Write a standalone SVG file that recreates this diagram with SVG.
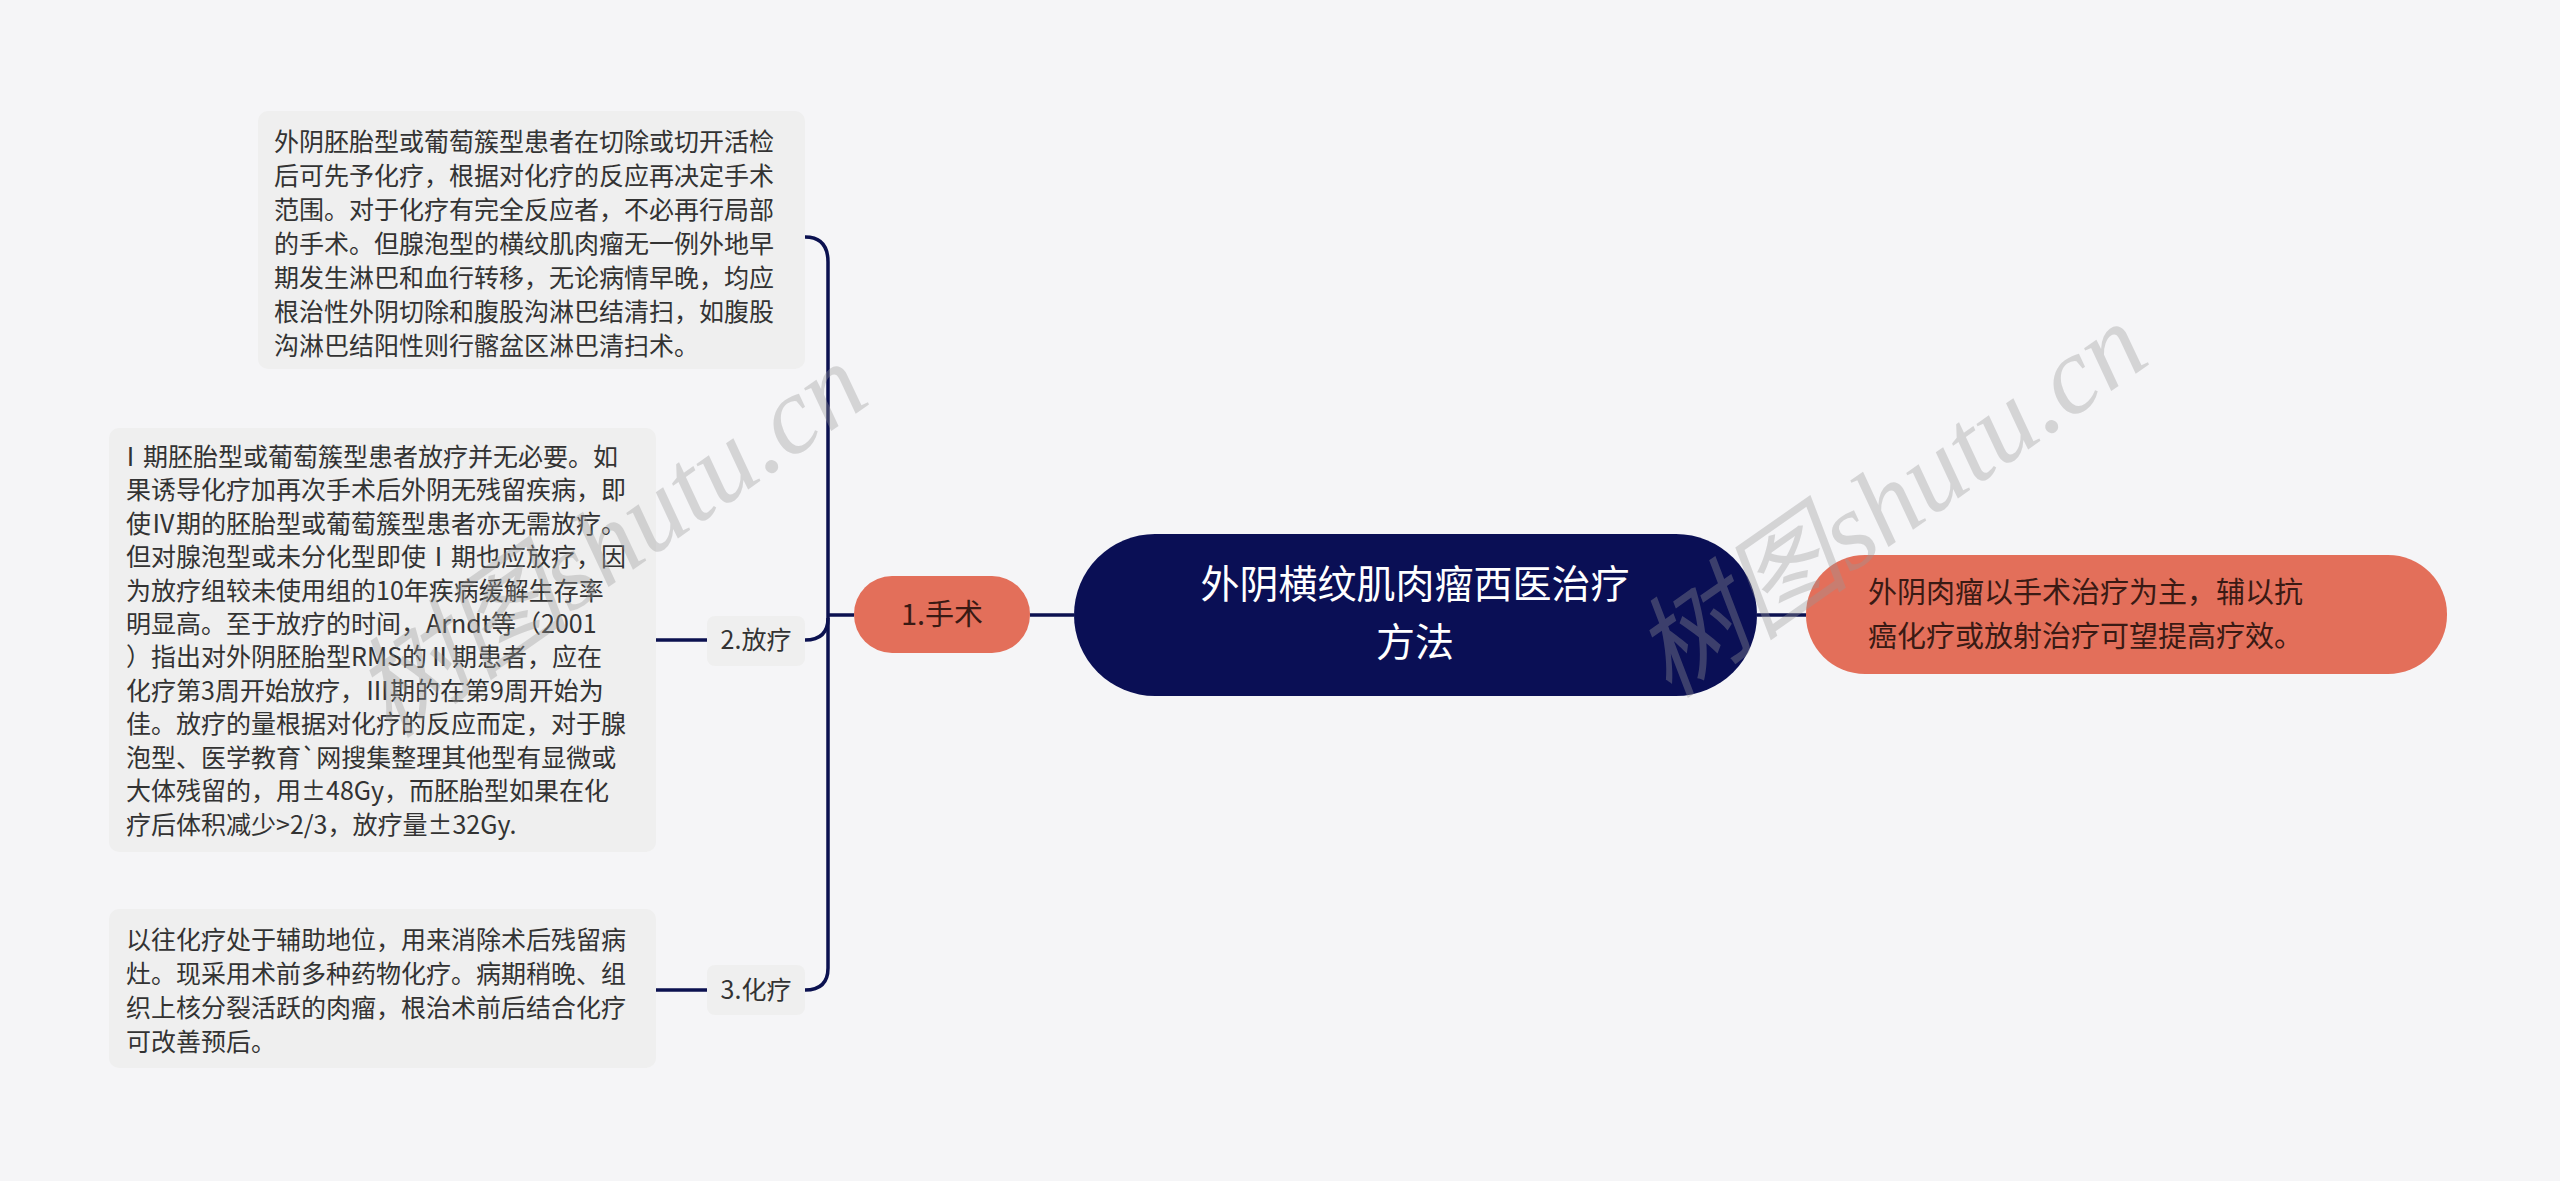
<svg xmlns="http://www.w3.org/2000/svg" width="2560" height="1181" viewBox="0 0 2560 1181">
<style>
text{font-family:"Noto Sans CJK SC","Noto Sans",sans-serif}
.box{fill:#efefef}
.t{font-size:25px;fill:#333}
.lab{font-size:25px;fill:#333}
.ln{fill:none;stroke:#0b1150;stroke-width:3.5}
.wm{font-size:110px;fill:#999;opacity:0.35;font-family:"Liberation Serif","Noto Sans CJK SC",serif;font-style:italic}
</style>
<rect width="2560" height="1181" fill="#f5f5f7"/>
<g id="connectors">
<path class="ln" d="M1030,615 L1074,615"/>
<path class="ln" d="M1757,615 L1806,615"/>
<path class="ln" d="M854,615 L828,615"/>
<path class="ln" d="M805,237 Q828,237 828,262 L828,968 Q828,990 805,990"/>
<path class="ln" d="M828,618 Q828,640 805,640"/>
<path class="ln" d="M656,640 L707,640"/>
<path class="ln" d="M656,990 L707,990"/>
</g>
<g id="center">
<rect x="1074" y="534" width="683" height="162" rx="81" fill="#0a0f55"/>
<text x="1415" y="598" font-size="39" fill="#fff" text-anchor="middle">外阴横纹肌肉瘤西医治疗</text>
<text x="1415" y="656" font-size="39" fill="#fff" text-anchor="middle">方法</text>
</g>
<g id="right">
<rect x="1806" y="555" width="641" height="119" rx="59" fill="#e36f5a"/>
<text x="1868" y="603" font-size="29" fill="#3a1a14">外阴肉瘤以手术治疗为主，辅以抗</text>
<text x="1868" y="647" font-size="29" fill="#3a1a14">癌化疗或放射治疗可望提高疗效。</text>
</g>
<g id="surgery">
<rect x="854" y="576" width="176" height="77" rx="38" fill="#e36f5a"/>
<text x="942" y="625" font-size="29" fill="#3a1a14" text-anchor="middle">1.手术</text>
</g>
<g id="radio">
<rect x="707" y="616" width="98" height="50" rx="8" class="box"/>
<text x="756" y="649" class="lab" text-anchor="middle">2.放疗</text>
</g>
<g id="chemo">
<rect x="707" y="965" width="98" height="50" rx="8" class="box"/>
<text x="756" y="999" class="lab" text-anchor="middle">3.化疗</text>
</g>
<g id="box1">
<rect x="258" y="111" width="547" height="258" rx="10" class="box"/>
<text class="t"><tspan x="274" y="151">外阴胚胎型或葡萄簇型患者在切除或切开活检</tspan><tspan x="274" y="185">后可先予化疗，根据对化疗的反应再决定手术</tspan><tspan x="274" y="219">范围。对于化疗有完全反应者，不必再行局部</tspan><tspan x="274" y="253">的手术。但腺泡型的横纹肌肉瘤无一例外地早</tspan><tspan x="274" y="287">期发生淋巴和血行转移，无论病情早晚，均应</tspan><tspan x="274" y="321">根治性外阴切除和腹股沟淋巴结清扫，如腹股</tspan><tspan x="274" y="355">沟淋巴结阳性则行髂盆区淋巴清扫术。</tspan></text>
</g>
<g id="box2">
<rect x="109" y="428" width="547" height="424" rx="10" class="box"/>
<text class="t"><tspan x="118" y="466">Ⅰ期胚胎型或葡萄簇型患者放疗并无必要。如</tspan><tspan x="126" y="499">果诱导化疗加再次手术后外阴无残留疾病，即</tspan><tspan x="126" y="533">使Ⅳ期的胚胎型或葡萄簇型患者亦无需放疗。</tspan><tspan x="126" y="566">但对腺泡型或未分化型即使Ⅰ期也应放疗，因</tspan><tspan x="126" y="600">为放疗组较未使用组的10年疾病缓解生存率</tspan><tspan x="126" y="633">明显高。至于放疗的时间，Arndt等（2001</tspan><tspan x="126" y="666">）指出对外阴胚胎型RMS的Ⅱ期患者，应在</tspan><tspan x="126" y="700">化疗第3周开始放疗，Ⅲ期的在第9周开始为</tspan><tspan x="126" y="733">佳。放疗的量根据对化疗的反应而定，对于腺</tspan><tspan x="126" y="767">泡型、医学教育`网搜集整理其他型有显微或</tspan><tspan x="126" y="800">大体残留的，用±48Gy，而胚胎型如果在化</tspan><tspan x="126" y="834">疗后体积减少&gt;2/3，放疗量±32Gy.</tspan></text>
</g>
<g id="box3">
<rect x="109" y="909" width="547" height="159" rx="10" class="box"/>
<text class="t"><tspan x="126" y="949">以往化疗处于辅助地位，用来消除术后残留病</tspan><tspan x="126" y="983">灶。现采用术前多种药物化疗。病期稍晚、组</tspan><tspan x="126" y="1017">织上核分裂活跃的肉瘤，根治术前后结合化疗</tspan><tspan x="126" y="1051">可改善预后。</tspan></text>
</g>
<g id="watermarks">
<text class="wm" transform="translate(390,740) rotate(-35)">树图shutu.cn</text>
<text class="wm" transform="translate(1670,700) rotate(-35)">树图shutu.cn</text>
</g>
</svg>
